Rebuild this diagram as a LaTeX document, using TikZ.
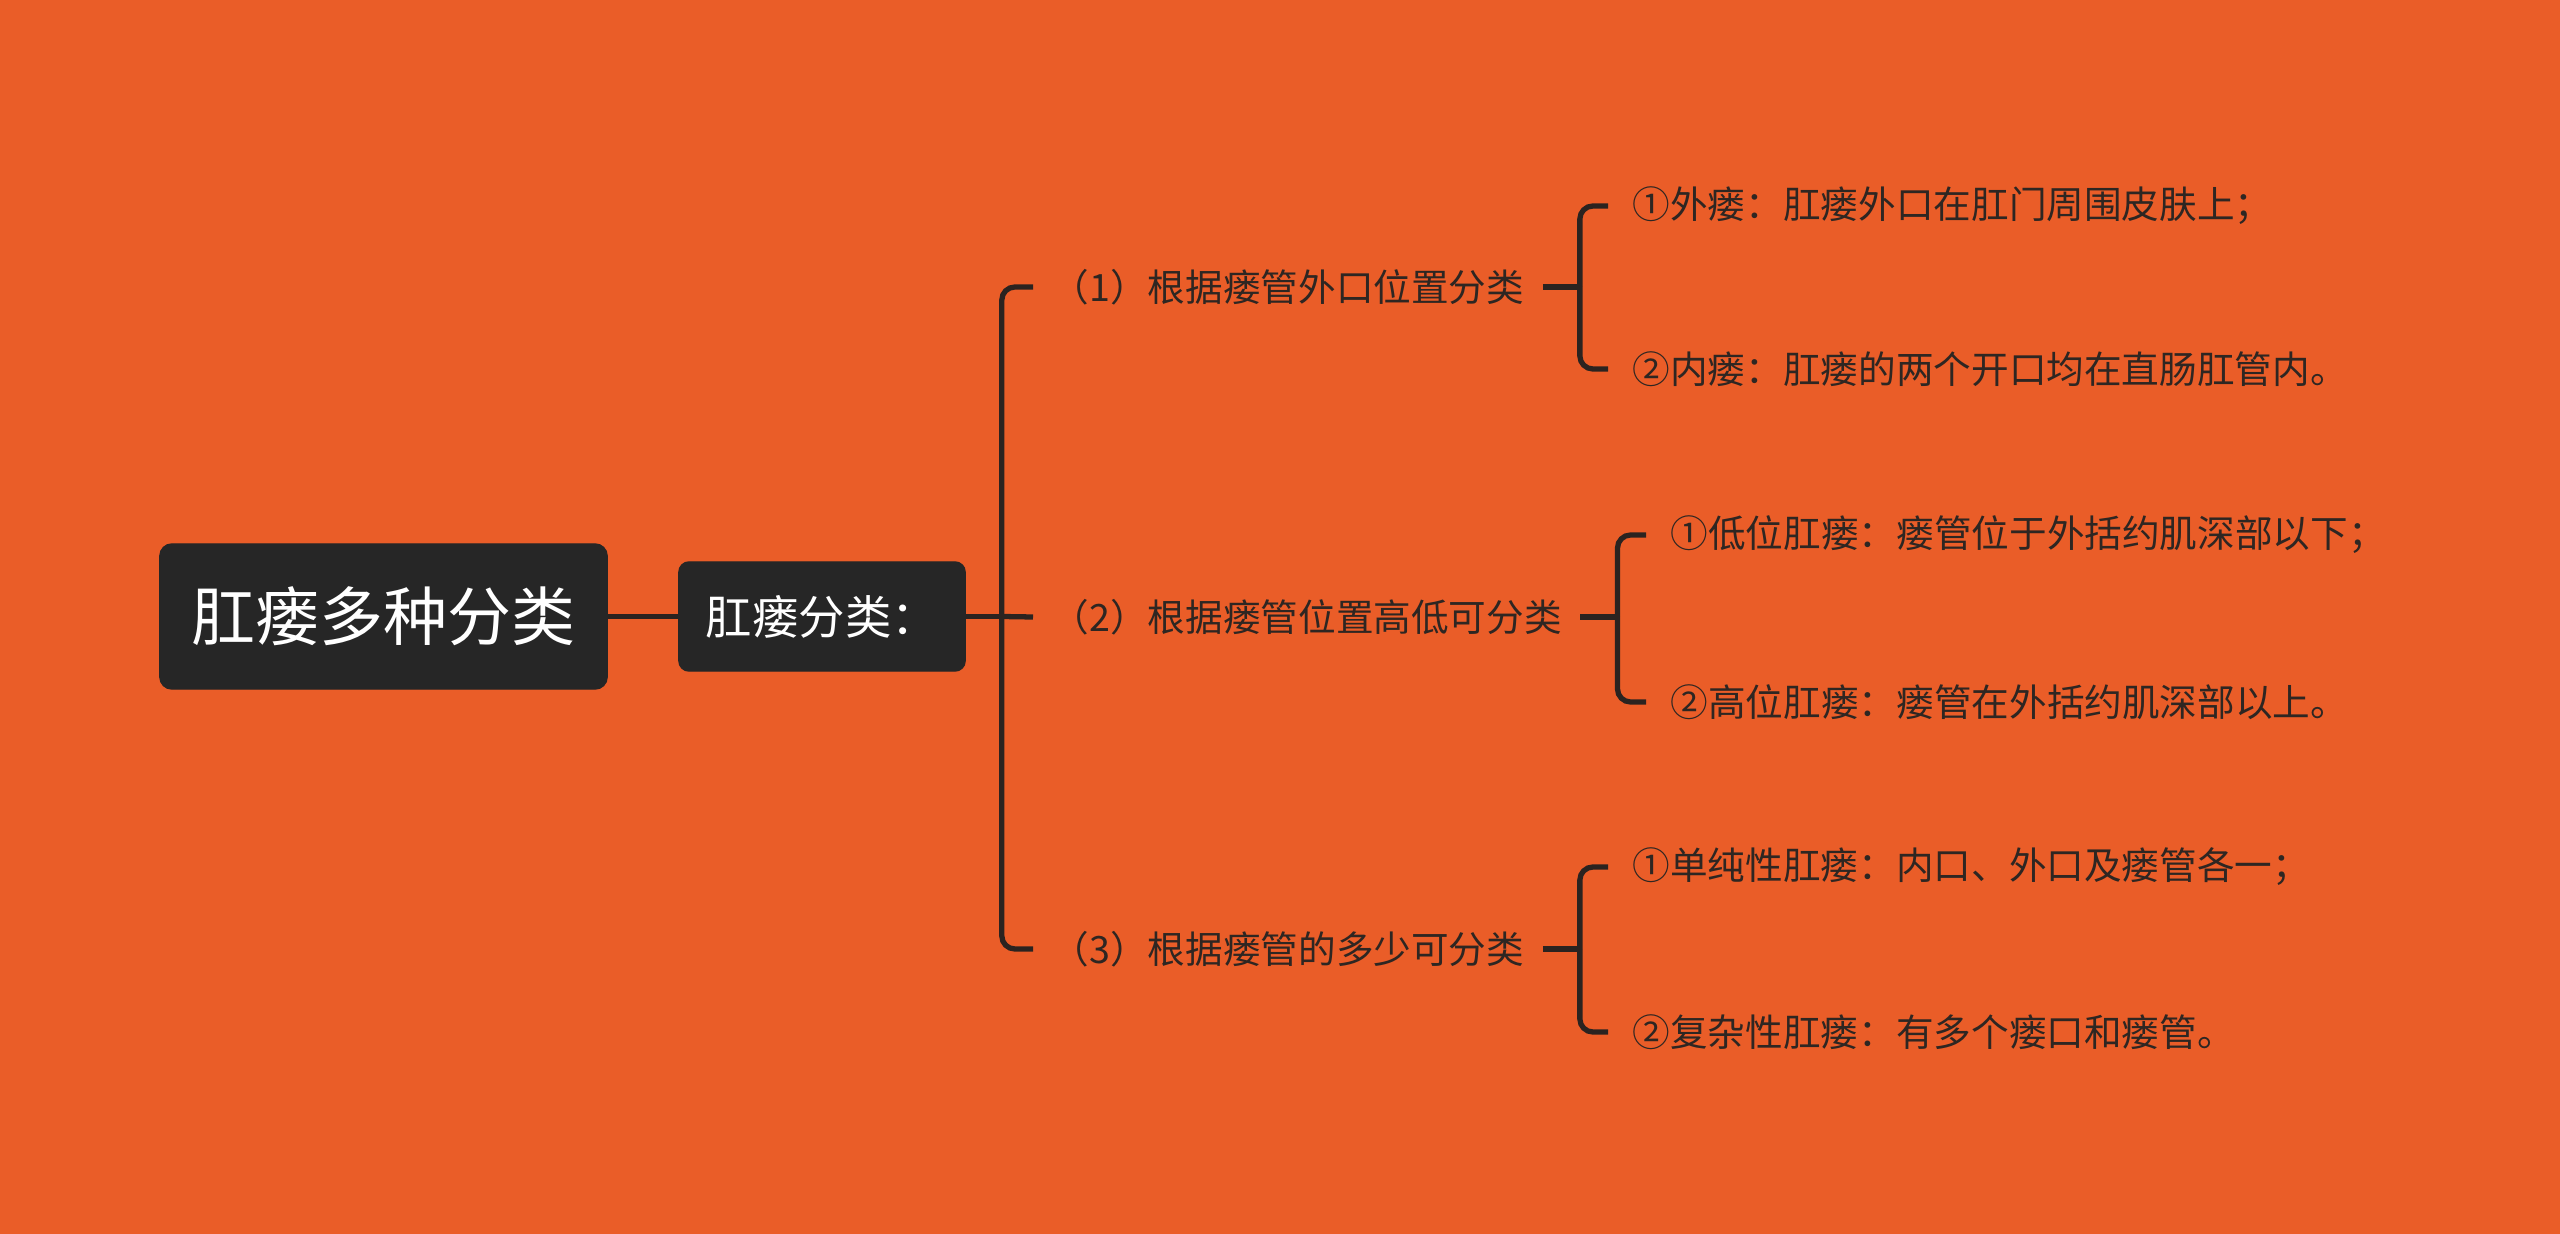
\documentclass[tikz,border=0pt]{standalone}
\usepackage{fontspec}
\setmainfont{Noto Sans CJK SC}
\definecolor{bgorange}{HTML}{EA5D28}
\definecolor{boxdark}{HTML}{262626}
\definecolor{linedark}{HTML}{2B2320}
\definecolor{textdark}{HTML}{2E2622}

\tikzset{
  conn/.style={line width=1.5pt, linedark},
  brace/.style={conn, rounded corners=0.13cm},
  rootbox/.style={fill=boxdark, draw=boxdark, rounded corners=0.12cm, text=white,
    minimum width=4.47cm, minimum height=1.45cm, font=\fontsize{18.2pt}{22pt}\selectfont},
  catbox/.style={fill=boxdark, draw=boxdark, rounded corners=0.1cm, text=white,
    minimum width=2.86cm, minimum height=1.09cm, font=\fontsize{13.2pt}{16pt}\selectfont},
  branch/.style={anchor=west, inner xsep=0.18cm, inner ysep=0pt, text=textdark,
    font=\fontsize{10.7pt}{13pt}\selectfont},
  leaf/.style={branch, inner xsep=0.24cm},
}

\begin{document}
\begin{tikzpicture}[x=0.01cm, y=-0.01cm]
  \fill[bgorange] (0,0) rectangle (2560,1234);
  \useasboundingbox (0,0) rectangle (2560,1234);

  % root and first level
  \node[rootbox] (root) at (383.5,616.5) {肛瘘多种分类};
  \node[catbox] (cat) at (822,616.5) {肛瘘分类：};
  \draw[conn] (root.east) -- (cat.west);

  % second level
  \node[branch] (b1) at (1033,287) {（1）根据瘘管外口位置分类};
  \node[branch] (b2) at (1033,617) {（2）根据瘘管位置高低可分类};
  \node[branch] (b3) at (1033,949) {（3）根据瘘管的多少可分类};

  \coordinate (j0) at ([xshift=0.36cm]cat.east);
  \draw[conn] (cat.east) -- (j0);
  \draw[brace] (j0) |- (b1.west);
  \draw[brace] (j0) |- (b3.west);
  \draw[conn] (j0) -- (b2.west);

  % leaves
  \node[leaf] (b1a) at (1608,206) {①外瘘：肛瘘外口在肛门周围皮肤上；};
  \node[leaf] (b1b) at (1608,369) {②内瘘：肛瘘的两个开口均在直肠肛管内。};
  \node[leaf] (b2a) at (1646,535) {①低位肛瘘：瘘管位于外括约肌深部以下；};
  \node[leaf] (b2b) at (1646,702) {②高位肛瘘：瘘管在外括约肌深部以上。};
  \node[leaf] (b3a) at (1608,867) {①单纯性肛瘘：内口、外口及瘘管各一；};
  \node[leaf] (b3b) at (1608,1032) {②复杂性肛瘘：有多个瘘口和瘘管。};

  \foreach \p in {b1,b2,b3}{
    \coordinate (j\p) at ([xshift=0.37cm]\p.east);
    \draw[conn] (\p.east) -- (j\p);
    \draw[brace] (j\p) |- (\p a.west);
    \draw[brace] (j\p) |- (\p b.west);
  }
\end{tikzpicture}
\end{document}
